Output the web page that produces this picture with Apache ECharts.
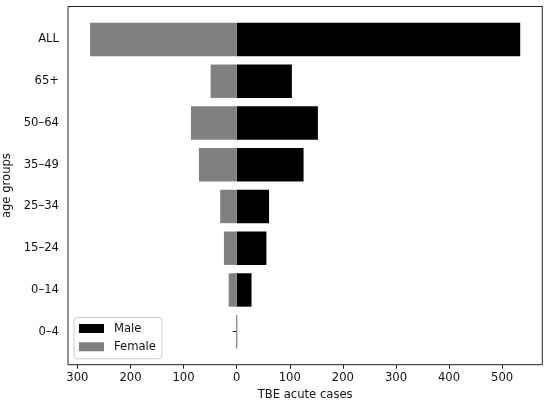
<!DOCTYPE html>
<html>
<head>
<meta charset="utf-8">
<script src="https://cdn.jsdelivr.net/npm/echarts@6/dist/echarts.min.js"></script>
<style>
html,body{margin:0;padding:0;background:#fff;}
#chart{width:550px;height:406px;}
</style>
</head>
<body>
<div id="chart"></div>
<script>
var ageGroups = ['0–4', '0–14', '15–24', '25–34', '35–49', '50–64', '65+', 'ALL']
var maleCases = [1, 28, 56, 61, 126, 153, 104, 534]
var femaleCases = [1, 15, 24, 31, 71, 86, 49, 276]
var xTicks = [-300, -200, -100, 0, 100, 200, 300, 400, 500]

var font = 'DejaVu Sans'
var chart = echarts.init(document.getElementById('chart'))

var option = {
	animation: false,
	textStyle: {fontFamily: font},
	grid: [
		{ // bars
			left: 68, top: 18.6, width: 474.3, height: 334,
			outerBoundsMode: 'none',
			containLabel: false,
			show: false
		},
		{ // frame
			left: 68, top: 6.5, width: 474.3, height: 358.2,
			outerBoundsMode: 'none',
			containLabel: false,
			show: true, borderColor: '#222', borderWidth: 1,
			backgroundColor: 'transparent'
		}
	],
	legend: {
		orient: 'vertical',
		left: 74, top: 317.5,
		padding: [4, 6, 5, 5],
		itemGap: 4.3,
		itemWidth: 25,
		itemHeight: 9,
		icon: 'rect',
		borderColor: '#cccccc',
		borderWidth: 1,
		borderRadius: 3,
		backgroundColor: 'rgba(255,255,255,0.8)',
		textStyle: {fontFamily: font, fontSize: 11.6, color: '#111', lineHeight: 14, padding: [0, 0, 0, 5]},
		data: ['Male', 'Female']
	},
	xAxis: [
		{
			gridIndex: 0,
			type: 'value',
			min: -317.6, max: 575.6,
			offset: 12.1,
			name: 'TBE acute cases',
			nameLocation: 'middle',
			nameGap: 24.5,
			nameTextStyle: {fontFamily: font, fontSize: 11.6, color: '#111'},
			splitLine: {show: false},
			axisLine: {show: false},
			axisTick: {show: true, length: 4, customValues: xTicks, lineStyle: {color: '#222'}},
			axisLabel: {
				customValues: xTicks,
				margin: 7,
				fontFamily: font, fontSize: 11.6, color: '#111',
				formatter: function (v) { return Math.abs(v) }
			}
		},
		{gridIndex: 1, type: 'value', show: false, min: 0, max: 1}
	],
	yAxis: [
		{
			gridIndex: 0,
			type: 'category',
			data: ageGroups,
			name: 'age groups',
			nameLocation: 'middle',
			nameGap: 50,
			nameTextStyle: {fontFamily: font, fontSize: 11.6, color: '#111'},
			axisLine: {show: false},
			axisTick: {show: true, alignWithLabel: true, length: 4, lineStyle: {color: '#222'}},
			axisLabel: {margin: 9, fontFamily: font, fontSize: 11.6, color: '#111'}
		},
		{gridIndex: 1, type: 'value', show: false, min: 0, max: 1}
	],
	series: [
		{
			name: 'Male',
			type: 'bar',
			stack: 'total',
			barWidth: '80%',
			itemStyle: {color: '#000000'},
			data: maleCases
		},
		{
			name: 'Female',
			type: 'bar',
			stack: 'total',
			barWidth: '80%',
			itemStyle: {color: '#808080'},
			data: femaleCases.map(function (v) { return -v })
		}
	]
}
chart.setOption(option)
</script>
</body>
</html>
